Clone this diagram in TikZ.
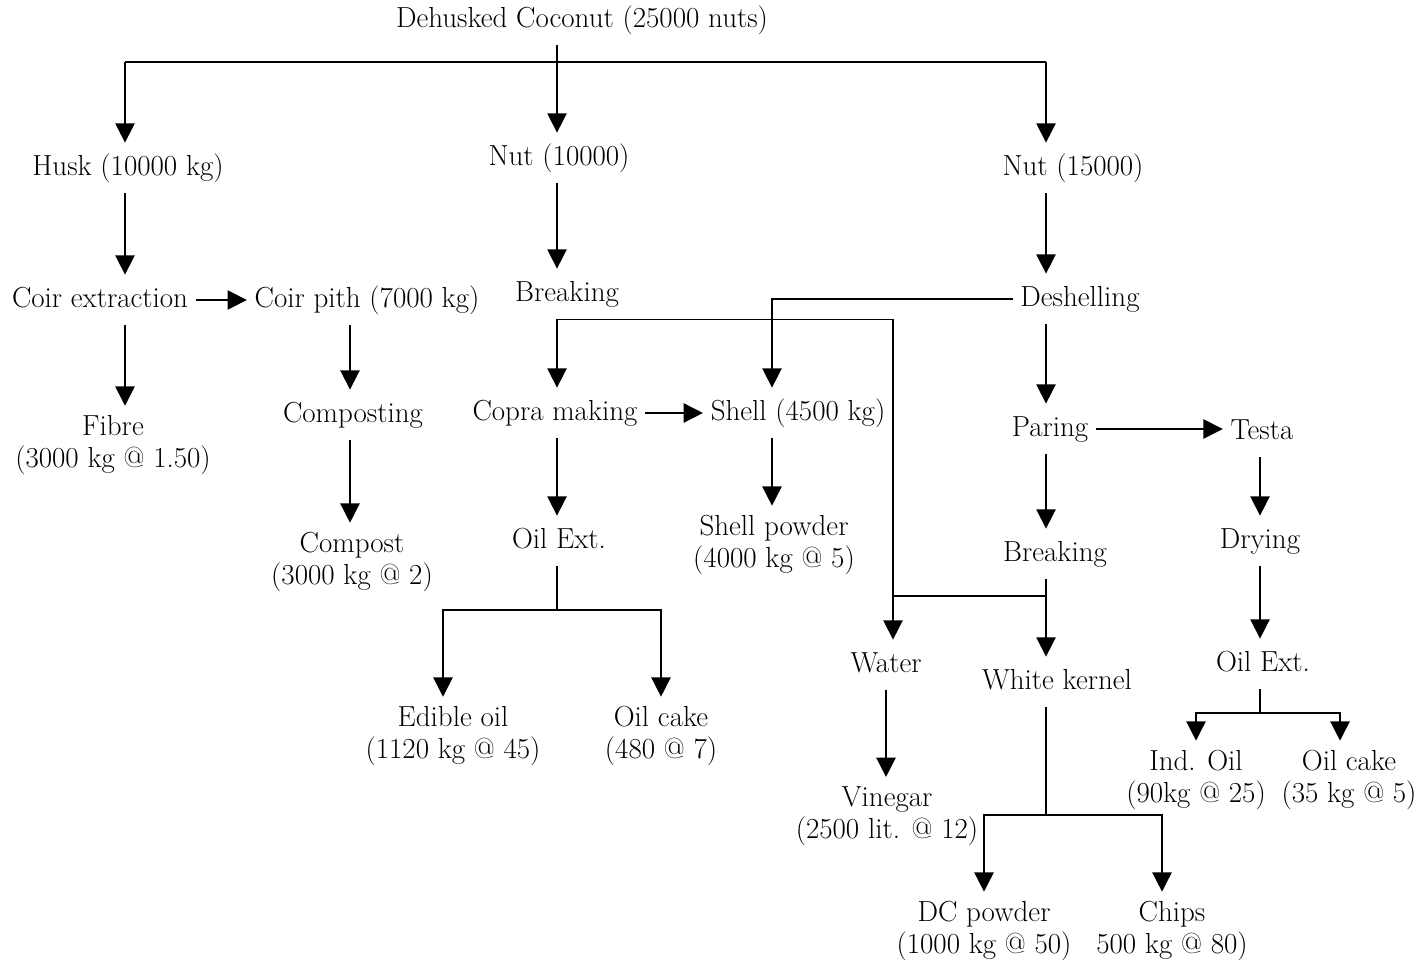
\documentclass[tikz,border=0pt]{standalone}
\usetikzlibrary{arrows.meta}
\tikzset{
    box/.style={inner xsep=4pt, inner ysep=6pt, text height=12pt, text depth=4pt},
    twoline/.style={align=center, inner xsep=4pt, inner ysep=5pt},
    arr/.style={-{Triangle[width=11pt,length=11pt]}},
}
\begin{document}
\begin{tikzpicture}[x=0.02cm, y=-0.02cm, line width=0.9pt, font=\fontsize{16.5}{18.2}\selectfont]
    \useasboundingbox (0,0) rectangle (1415,962);
    % columns and junctions
    \coordinate (cA) at (125,0);
    \coordinate (cB) at (350,0);
    \coordinate (cC) at (557,0);
    \coordinate (cD) at (443,0);
    \coordinate (cF) at (772,0);
    \coordinate (cG) at (893,0);
    \coordinate (cH) at (1046,0);
    \coordinate (cJ) at (1162,0);
    \coordinate (cK) at (1260,0);
    \coordinate (cM) at (1340,0);
    \coordinate (bus) at (557,62);
    \coordinate (jA) at (557,610);
    \coordinate (jB) at (1260,713);
    \coordinate (jC) at (1046,815);
    \coordinate (jW) at (1046,596);
    % nodes
    \node[box] (title) at (582,20) {Dehusked Coconut (25000 nuts)};
    \node[box] (husk) at (128,168) {Husk (10000 kg)};
    \node[box] (nutA) at (559,158) {Nut (10000)};
    \node[box] (nutB) at (1073,168) {Nut (15000)};
    \node[box] (coir) at (100,300) {Coir extraction};
    \node[box] (pith) at (367,300) {Coir pith (7000 kg)};
    \node[box] (brkA) at (567,294) {Breaking};
    \node[box] (deshell) at (1080,299) {Deshelling};
    \node[twoline] (fibre) at (113,445) {Fibre\\(3000 kg @ 1.50)};
    \node[box] (composting) at (353,415) {Composting};
    \node[box] (copra) at (555,413) {Copra making};
    \node[box] (shell) at (798,413) {Shell (4500 kg)};
    \node[box] (paring) at (1050,429) {Paring};
    \node[box] (testa) at (1262,432) {Testa};
    \node[twoline] (compost) at (352,562) {Compost\\(3000 kg @ 2)};
    \node[box] (oilA) at (559,541) {Oil Ext.};
    \node[twoline] (powder) at (774,545) {Shell powder\\(4000 kg @ 5)};
    \node[box] (brkB) at (1055,554) {Breaking};
    \node[box] (drying) at (1260,541) {Drying};
    \node[box] (water) at (886,665) {Water};
    \node[box] (kernel) at (1057,682) {White kernel};
    \node[box] (oilB) at (1263,664) {Oil Ext.};
    \node[twoline] (edible) at (453,736) {Edible oil\\(1120 kg @ 45)};
    \node[twoline] (cakeA) at (661,736) {Oil cake\\(480 @ 7)};
    \node[twoline] (indoil) at (1196,780) {Ind. Oil\\(90kg @ 25)};
    \node[twoline] (cakeB) at (1349,780) {Oil cake\\(35 kg @ 5)};
    \node[twoline] (vinegar) at (887,816) {Vinegar\\(2500 lit. @ 12)};
    \node[twoline] (dcpow) at (984,931) {DC powder\\(1000 kg @ 50)};
    \node[twoline] (chips) at (1172,931) {Chips\\500 kg @ 80)};
    % connectors
    \draw (bus -| cA) -- (bus -| cH);
    \draw[arr] (title.south -| cC) -- (nutA.north -| cC);
    \draw[arr] (bus -| cA) -- (husk.north -| cA);
    \draw[arr] (bus -| cH) -- (nutB.north -| cH);
    \draw[arr] (husk.south -| cA) -- (coir.north -| cA);
    \draw[arr] (coir) -- (pith);
    \draw[arr] (coir.south -| cA) -- (fibre.north -| cA);
    \draw[arr] (pith.south -| cB) -- (composting.north -| cB);
    \draw[arr] (composting.south -| cB) -- (compost.north -| cB);
    \draw[arr] (nutA.south -| cC) -- (brkA.north -| cC);
    \draw[arr] (brkA.south -| cC) -- (copra.north -| cC);
    \draw[arr] (brkA.south -| cC) -| (water.north -| cG);
    \draw[arr] (copra) -- (shell);
    \draw[arr] (copra.south -| cC) -- (oilA.north -| cC);
    \draw (oilA.south -| cC) -- (jA);
    \draw[arr] (jA) -| (edible.north -| cD);
    \draw[arr] (jA) -| (cakeA.north);
    \draw[arr] (shell.south -| cF) -- (powder.north -| cF);
    \draw[arr] (nutB.south -| cH) -- (deshell.north -| cH);
    \draw[arr] (deshell.west) -| (shell.north -| cF);
    \draw[arr] (deshell.south -| cH) -- (paring.north -| cH);
    \draw[arr] (paring.east) -- (paring.east -| testa.west);
    \draw[arr] (paring.south -| cH) -- (brkB.north -| cH);
    \draw[arr] (brkB.south -| cH) -- (kernel.north -| cH);
    \draw (jW) -- (jW -| cG);
    \draw[arr] (testa.south -| cK) -- (drying.north -| cK);
    \draw[arr] (drying.south -| cK) -- (oilB.north -| cK);
    \draw (oilB.south -| cK) -- (jB);
    \draw[arr] (jB) -| (indoil.north);
    \draw[arr] (jB) -| (cakeB.north -| cM);
    \draw[arr] (water.south) -- (water.south |- vinegar.north);
    \draw (kernel.south -| cH) -- (jC);
    \draw[arr] (jC) -| (dcpow.north);
    \draw[arr] (jC) -| (chips.north -| cJ);
\end{tikzpicture}
\end{document}
